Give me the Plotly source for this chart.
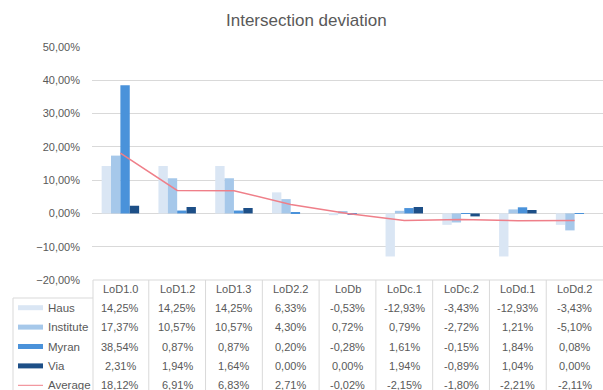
import plotly.graph_objects as go

# Categories and series (percent values)
categories = ["LoD1.0", "LoD1.2", "LoD1.3", "LoD2.2", "LoDb", "LoDc.1", "LoDc.2", "LoDd.1", "LoDd.2"]
haus = [14.25, 14.25, 14.25, 6.33, -0.53, -12.93, -3.43, -12.93, -3.43]
institute = [17.37, 10.57, 10.57, 4.30, 0.72, 0.79, -2.72, 1.21, -5.10]
myran = [38.54, 0.87, 0.87, 0.20, -0.28, 1.61, -0.15, 1.84, 0.08]
via = [2.31, 1.94, 1.64, 0.00, 0.00, 1.94, -0.89, 1.04, 0.00]
average = [18.12, 6.91, 6.83, 2.71, -0.02, -2.15, -1.80, -2.21, -2.11]

series_names = ["Haus", "Institute", "Myran", "Via"]
series_values = [haus, institute, myran, via]
series_colors = ["#DAE6F4", "#A6C8EA", "#4A92DA", "#1D4F87"]
avg_color = "#EF7F89"

TEXT = "#595959"
GRID = "#D9D9D9"
FONT = "Liberation Sans, Arial, sans-serif"

W, H = 603, 390
ML, MR, MT, MB = 92, 0, 47, 110
PH = H - MT - MB  # plot height in px
PLOT_BOTTOM = H - MB


def py(p):
    """pixel row -> paper y"""
    return (PLOT_BOTTOM - p) / PH


def px(p):
    """pixel column -> paper x"""
    return (p - ML) / (W - ML - MR)


def pct(v):
    return f"{v:.2f}".replace(".", ",") + "%"


fig = go.Figure()
for name, vals, col in zip(series_names, series_values, series_colors):
    fig.add_trace(go.Bar(
        x=categories, y=[v / 100 for v in vals], name=name,
        marker=dict(color=col, line=dict(width=0)),
    ))
fig.add_trace(go.Scatter(
    x=categories, y=[v / 100 for v in average], name="Average",
    mode="lines", line=dict(color=avg_color, width=1.5),
))

# Data table below the plot area
header_y = 288.5
row_top = 298
row_h = 19.4
row_centers = [row_top + row_h * (i + 0.5) for i in range(5)]
annotations = []
shapes = []

for c in categories:
    annotations.append(dict(x=c, y=py(header_y), xref="x", yref="paper",
                            text=c, showarrow=False, xanchor="center", yanchor="middle",
                            font=dict(family=FONT, size=11, color=TEXT)))

all_rows = series_values + [average]
for r, vals in enumerate(all_rows):
    for c, v in zip(categories, vals):
        annotations.append(dict(x=c, y=py(row_centers[r]), xref="x", yref="paper",
                                text=pct(v), showarrow=False, xanchor="center", yanchor="middle",
                                font=dict(family=FONT, size=11, color=TEXT)))

# Legend keys and labels in the first column of the table
row_labels = series_names + ["Average"]
for r, name in enumerate(row_labels):
    yc = row_centers[r]
    if r < 4:
        shapes.append(dict(type="rect", xref="paper", yref="paper",
                           x0=px(18), x1=px(43), y0=py(yc - 2.5), y1=py(yc + 2.5),
                           fillcolor=series_colors[r], line=dict(width=0)))
    else:
        shapes.append(dict(type="line", xref="paper", yref="paper",
                           x0=px(18), x1=px(43), y0=py(yc), y1=py(yc),
                           line=dict(color=avg_color, width=1)))
    annotations.append(dict(x=px(46), y=py(yc), xref="paper", yref="paper",
                            text=name, showarrow=False, xanchor="left", yanchor="middle",
                            font=dict(family=FONT, size=11.5, color=TEXT)))

# Table borders
n = len(categories)
shapes.append(dict(type="line", xref="paper", yref="paper", x0=px(93), x1=1, y0=0, y1=0,
                   line=dict(color=GRID, width=1)))
for k in range(n):
    xk = k / n if k > 0 else px(93)
    shapes.append(dict(type="line", xref="paper", yref="paper", x0=xk, x1=xk,
                       y0=0, y1=py(H + 5), line=dict(color=GRID, width=1)))
shapes.append(dict(type="line", xref="paper", yref="paper", x0=px(13), x1=px(93),
                   y0=py(row_top), y1=py(row_top), line=dict(color=GRID, width=1)))
shapes.append(dict(type="line", xref="paper", yref="paper", x0=px(13), x1=px(13),
                   y0=py(row_top), y1=py(H + 5), line=dict(color=GRID, width=1)))

fig.update_layout(
    width=W, height=H,
    margin=dict(l=ML, r=MR, t=MT, b=MB),
    paper_bgcolor="white", plot_bgcolor="white",
    separators=",.",
    barmode="group", bargap=0.34, bargroupgap=0,
    showlegend=False,
    title=dict(text="Intersection deviation", x=0.508, xanchor="center", y=1 - 20 / H,
               yanchor="middle", font=dict(family=FONT, size=17, color=TEXT)),
    xaxis=dict(range=[-0.5, n - 0.5], showticklabels=False, showgrid=False,
               zeroline=False, showline=False, ticks=""),
    yaxis=dict(range=[-0.2, 0.5], dtick=0.1, tickformat=".2%", showgrid=True,
               gridcolor=GRID, gridwidth=1, zeroline=True, zerolinecolor=GRID,
               zerolinewidth=1, showline=False, ticks="", ticklabelstandoff=11,
               tickfont=dict(family=FONT, size=11, color=TEXT)),
    annotations=annotations,
    shapes=shapes,
)

fig.write_html("out.html")
